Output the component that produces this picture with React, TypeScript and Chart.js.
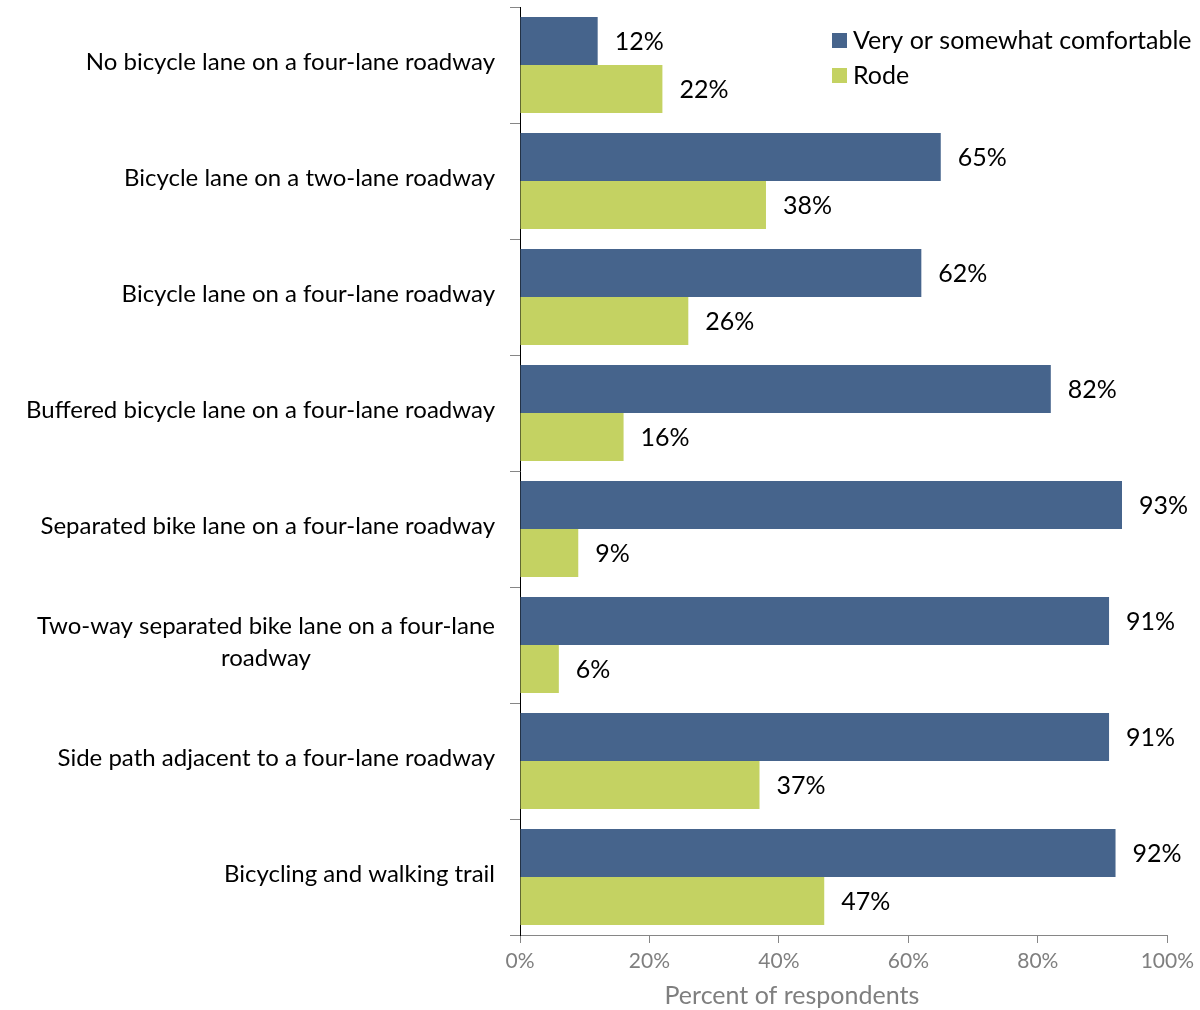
import React, { useEffect, useRef } from "react";
import { Chart, registerables } from "chart.js";

Chart.register(...registerables);

const categories: (string | string[])[] = [
  "No bicycle lane on a four-lane roadway",
  "Bicycle lane on a two-lane roadway",
  "Bicycle lane on a four-lane roadway",
  "Buffered bicycle lane on a four-lane roadway",
  "Separated bike lane on a four-lane roadway",
  ["Two-way separated bike lane on a four-lane", "roadway"],
  "Side path adjacent to a four-lane roadway",
  "Bicycling and walking trail",
];
const comfortable = [12, 65, 62, 82, 93, 91, 91, 92];
const rode = [22, 38, 26, 16, 9, 6, 37, 47];
const seriesNames = ["Very or somewhat comfortable", "Rode"];
const xTicks = [0, 20, 40, 60, 80, 100];
const xTitle = "Percent of respondents";

const FONT = "Lato, 'Open Sans', sans-serif";
const BLUE = "#46648C";
const GREEN = "#C4D262";

const categoryLabelPlugin = {
  id: "categoryLabels",
  afterDraw(chart: any) {
    const ctx = chart.ctx;
    const y = chart.scales.y;
    ctx.save();
    ctx.font = `24px ${FONT}`;
    ctx.fillStyle = "#000";
    ctx.textBaseline = "middle";
    const right = 495;
    const lh = 32;
    categories.forEach((lab, i) => {
      const lines = Array.isArray(lab) ? lab : [lab];
      const cy = y.getPixelForValue(i) - 3;
      const widths = lines.map((l) => ctx.measureText(l).width);
      const maxW = Math.max(...widths);
      const cx = right - maxW / 2;
      ctx.textAlign = "center";
      lines.forEach((l, k) => {
        const ly = cy + (k - (lines.length - 1) / 2) * lh;
        ctx.fillText(l, cx, ly);
      });
    });
    ctx.restore();
  },
};

const valueLabelPlugin = {
  id: "valueLabels",
  afterDatasetsDraw(chart: any) {
    const ctx = chart.ctx;
    ctx.save();
    ctx.font = `25px ${FONT}`;
    ctx.fillStyle = "#000";
    ctx.textAlign = "left";
    ctx.textBaseline = "middle";
    chart.data.datasets.forEach((ds: any, di: number) => {
      const meta = chart.getDatasetMeta(di);
      meta.data.forEach((bar: any, i: number) => {
        ctx.fillText(`${ds.data[i]}%`, bar.x + 17, bar.y + 1);
      });
    });
    ctx.restore();
  },
};

const legendPlugin = {
  id: "customLegend",
  afterDraw(chart: any) {
    const ctx = chart.ctx;
    ctx.save();
    ctx.font = `25px ${FONT}`;
    ctx.textAlign = "left";
    ctx.textBaseline = "middle";
    chart.data.datasets.forEach((ds: any, i: number) => {
      const yy = 41 + i * 35;
      ctx.fillStyle = ds.backgroundColor;
      ctx.fillRect(832, yy - 8, 15, 15);
      ctx.fillStyle = "#000";
      ctx.fillText(ds.label, 853, yy);
    });
    ctx.restore();
  },
};

const axisTitlePlugin = {
  id: "axisTitle",
  afterDraw(chart: any) {
    const ctx = chart.ctx;
    const x = chart.scales.x;
    ctx.save();
    ctx.font = `25px ${FONT}`;
    ctx.fillStyle = "#7F7F7F";
    ctx.textAlign = "center";
    ctx.textBaseline = "middle";
    ctx.fillText(xTitle, x.getPixelForValue(42), 996);
    ctx.restore();
  },
};

export default function App() {
  const ref = useRef<HTMLCanvasElement>(null);
  useEffect(() => {
    document.body.style.margin = "0";
    const chart = new Chart(ref.current!, {
      type: "bar",
      data: {
        labels: categories.map((c) => (Array.isArray(c) ? c.join(" ") : c)),
        datasets: [
          { label: seriesNames[0], data: comfortable, backgroundColor: BLUE },
          { label: seriesNames[1], data: rode, backgroundColor: GREEN },
        ],
      },
      options: {
        indexAxis: "y",
        responsive: false,
        animation: false,
        layout: { padding: { top: 7, right: 32, left: 0, bottom: 0 } },
        datasets: {
          bar: { categoryPercentage: 0.828, barPercentage: 1 },
        },
        plugins: {
          legend: { display: false },
          tooltip: { enabled: false },
          title: { display: false },
        },
        scales: {
          x: {
            min: 0,
            max: 100,
            afterBuildTicks: (s: any) => {
              s.ticks = xTicks.map((v) => ({ value: v }));
            },
            afterFit: (s: any) => {
              s.height = 75;
            },
            ticks: {
              callback: (v: any) => `${v}%`,
              font: { family: FONT, size: 21 },
              color: "#7F7F7F",
              padding: 6,
            },
            grid: {
              drawOnChartArea: false,
              drawTicks: true,
              tickLength: 8,
              color: "#868686",
            },
            border: { color: "#868686", width: 1 },
            title: { display: false },
          },
          y: {
            afterFit: (s: any) => {
              s.width = 520;
            },
            ticks: { display: false },
            grid: {
              offset: true,
              drawOnChartArea: false,
              drawTicks: true,
              tickLength: 10,
              color: "#868686",
            },
            border: { color: "#000", width: 1 },
          },
        },
      },
      plugins: [categoryLabelPlugin, valueLabelPlugin, legendPlugin, axisTitlePlugin],
    });
    return () => chart.destroy();
  }, []);
  return (
    <div style={{ width: 1200, height: 1010 }}>
      <canvas ref={ref} width={1200} height={1010} />
    </div>
  );
}
